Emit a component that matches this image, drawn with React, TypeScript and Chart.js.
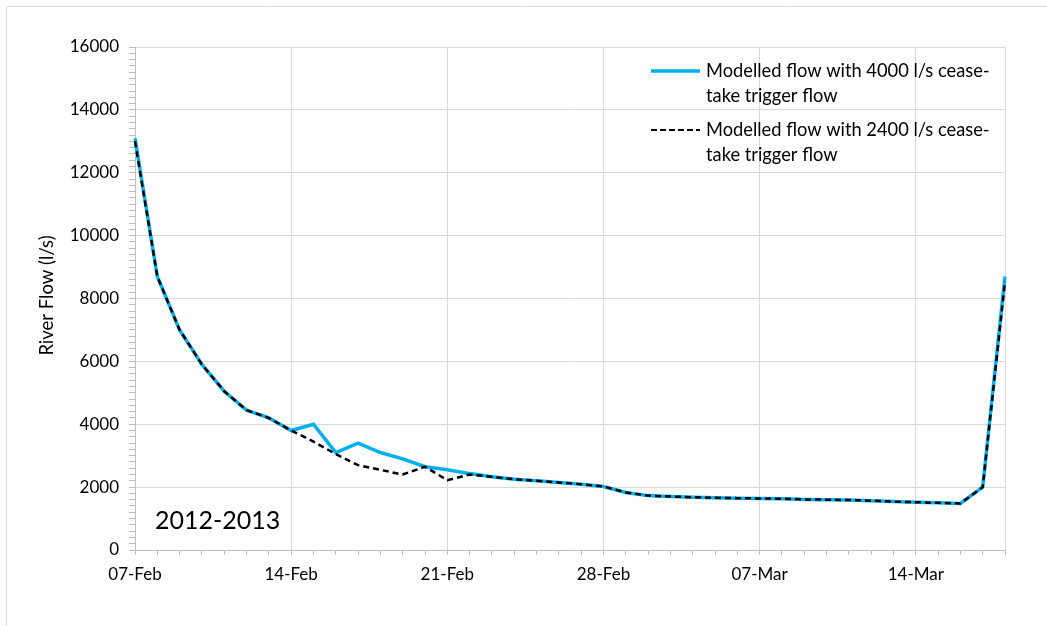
import React, { useEffect, useRef } from "react";
import { Chart, registerables } from "chart.js";

Chart.register(...registerables);

const dates = [
  "07-Feb", "08-Feb", "09-Feb", "10-Feb", "11-Feb", "12-Feb", "13-Feb",
  "14-Feb", "15-Feb", "16-Feb", "17-Feb", "18-Feb", "19-Feb", "20-Feb",
  "21-Feb", "22-Feb", "23-Feb", "24-Feb", "25-Feb", "26-Feb", "27-Feb",
  "28-Feb", "01-Mar", "02-Mar", "03-Mar", "04-Mar", "05-Mar", "06-Mar",
  "07-Mar", "08-Mar", "09-Mar", "10-Mar", "11-Mar", "12-Mar", "13-Mar",
  "14-Mar", "15-Mar", "16-Mar", "17-Mar", "18-Mar",
];

const flow4000 = [
  13100, 8700, 7000, 5900, 5050, 4450, 4200,
  3800, 4000, 3100, 3400, 3100, 2900, 2650,
  2550, 2430, 2330, 2250, 2200, 2150, 2090,
  2020, 1830, 1730, 1700, 1680, 1660, 1650,
  1640, 1630, 1610, 1600, 1590, 1570, 1540,
  1520, 1500, 1480, 2000, 8700,
];

const flow2400 = [
  13000, 8700, 7000, 5900, 5050, 4450, 4200,
  3800, 3450, 3050, 2700, 2550, 2400, 2650,
  2220, 2400, 2330, 2250, 2200, 2150, 2090,
  2020, 1830, 1730, 1700, 1680, 1660, 1650,
  1640, 1630, 1610, 1600, 1590, 1570, 1540,
  1520, 1500, 1480, 2000, 8550,
];

const seriesNames = [
  ["Modelled flow with 4000 l/s cease-", "take trigger flow"],
  ["Modelled flow with 2400 l/s cease-", "take trigger flow"],
];

const yTitle = "River Flow (l/s)";
const yearLabel = "2012-2013";

const FONT = "Lato";
const BLUE = "#00b0f0";

const overlayPlugin = {
  id: "overlay",
  afterDraw(chart: any) {
    const ctx = chart.ctx;
    const area = chart.chartArea;
    ctx.save();
    // outer frame
    ctx.strokeStyle = "#d9d9d9";
    ctx.lineWidth = 1;
    ctx.beginPath();
    ctx.moveTo(6.5, 626);
    ctx.lineTo(6.5, 6.5);
    ctx.lineTo(1047, 6.5);
    ctx.stroke();

    // y title
    ctx.fillStyle = "#000";
    ctx.font = `18.5px ${FONT}`;
    ctx.textAlign = "center";
    ctx.textBaseline = "middle";
    ctx.translate(47, (area.top + area.bottom) / 2 - 3);
    ctx.rotate(-Math.PI / 2);
    ctx.fillText(yTitle, 0, 0);
    ctx.restore();

    ctx.save();
    // year label
    ctx.fillStyle = "#000";
    ctx.font = `25px ${FONT}`;
    ctx.textAlign = "left";
    ctx.textBaseline = "middle";
    ctx.fillText(yearLabel, 155, 521);

    // legend
    const x0 = 651;
    const x1 = 700;
    const tx = 706;
    const entries = [
      { y: 71, color: BLUE, width: 3.5, dash: [] as number[] },
      { y: 130, color: "#000", width: 2.2, dash: [6, 3] },
    ];
    ctx.font = `18.3px ${FONT}`;
    entries.forEach((e, i) => {
      ctx.beginPath();
      ctx.strokeStyle = e.color;
      ctx.lineWidth = e.width;
      ctx.setLineDash(e.dash);
      ctx.moveTo(x0, e.y);
      ctx.lineTo(x1, e.y);
      ctx.stroke();
      ctx.setLineDash([]);
      ctx.fillStyle = "#000";
      ctx.textAlign = "left";
      ctx.textBaseline = "middle";
      ctx.fillText(seriesNames[i][0], tx, e.y);
      ctx.fillText(seriesNames[i][1], tx, e.y + 25);
    });
    ctx.restore();
  },
};

export default function App() {
  const canvasRef = useRef<HTMLCanvasElement | null>(null);

  useEffect(() => {
    if (!canvasRef.current) return;
    Chart.defaults.font.family = FONT;
    const chart = new Chart(canvasRef.current, {
      type: "line",
      data: {
        labels: dates,
        datasets: [
          {
            label: seriesNames[1].join(""),
            data: flow2400,
            borderColor: "#000",
            borderWidth: 2.5,
            borderDash: [6, 4],
            pointRadius: 0,
            tension: 0,
            fill: false,
            order: 0,
          },
          {
            label: seriesNames[0].join(""),
            data: flow4000,
            borderColor: BLUE,
            borderWidth: 3.5,
            pointRadius: 0,
            tension: 0,
            fill: false,
            order: 1,
          },
        ],
      },
      options: {
        animation: false,
        responsive: false,
        maintainAspectRatio: false,
        layout: { padding: { left: 0, right: 42, top: 47, bottom: 0 } },
        plugins: {
          legend: { display: false },
          tooltip: { enabled: false },
        },
        scales: {
          x: {
            type: "category",
            offset: false,
            grid: {
              color: (c: any) =>
                c.index % 7 === 0 || c.index === dates.length - 1 ? "#d9d9d9" : "rgba(0,0,0,0)",
              tickColor: "#bfbfbf",
              tickLength: 5,
              lineWidth: 1,
            },
            border: { color: "#bfbfbf" },
            ticks: {
              autoSkip: false,
              maxRotation: 0,
              minRotation: 0,
              padding: 9,
              color: "#000",
              font: { size: 17, family: FONT },
              callback: (_v: any, i: number) => (i % 7 === 0 ? dates[i] : ""),
            },
            afterFit: (s: any) => {
              s.height = 76;
            },
          },
          y: {
            min: 0,
            max: 16000,
            grid: {
              color: (c: any) =>
                c.tick && c.tick.value % 2000 === 0 ? "#d9d9d9" : "rgba(0,0,0,0)",
              tickColor: "#bfbfbf",
              tickLength: 6,
            },
            border: { color: "#bfbfbf" },
            ticks: {
              stepSize: 200,
              autoSkip: false,
              padding: 10,
              color: "#000",
              font: { size: 17, family: FONT },
              callback: (v: any) => (Number(v) % 2000 === 0 ? String(v) : ""),
            },
            afterFit: (s: any) => {
              s.width = 135;
            },
          },
        },
      },
      plugins: [overlayPlugin],
    });
    return () => chart.destroy();
  }, []);

  return (
    <div style={{ position: "absolute", left: 0, top: 0, width: 1047, height: 626, background: "#fff" }}>
      <canvas ref={canvasRef} width={1047} height={626} style={{ display: "block" }} />
    </div>
  );
}
